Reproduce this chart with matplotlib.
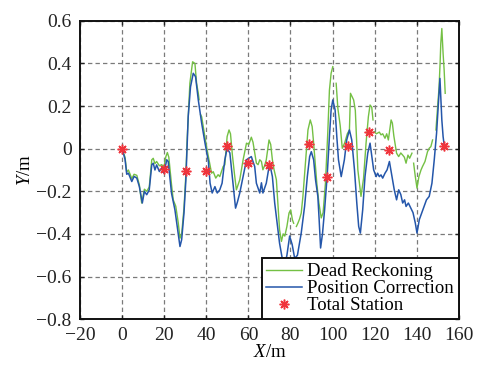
import numpy as np
import matplotlib
matplotlib.use("Agg")
import matplotlib.pyplot as plt

plt.rcParams['font.family'] = ['Liberation Serif', 'DejaVu Serif']
plt.rcParams['mathtext.fontset'] = 'custom'
plt.rcParams['mathtext.rm'] = 'Liberation Serif'
plt.rcParams['mathtext.it'] = 'Liberation Serif:italic'
plt.rcParams['axes.unicode_minus'] = True

# ---- data ----
pc_x = [0, 1.4, 2.2, 3.0, 4.6, 5.7, 7.0, 8.2, 9.6, 10.6, 11.7, 12.9, 14.1, 14.8, 15.6, 16.4,
        17.7, 18.8, 19.9, 21.2, 21.9, 23.5, 25.1, 26.4, 27.5, 28.3, 29.4, 30.3, 31.4, 32.5,
        33.8, 34.9, 36.2, 37.8, 39.4, 41.0, 41.8, 42.8, 44.1, 45.2, 46.4, 47.5, 48.8, 49.9,
        51.2, 52.7, 53.9, 54.8, 55.9, 57.5, 59.1, 61.4, 63.0, 63.8, 65.4, 66.2, 66.9, 68.5,
        70.1, 71.4, 72.5, 74.0, 74.8, 75.9, 77.0, 78.3, 79.6, 80.8, 82.0, 83.3, 85.1, 86.7,
        88.0, 89.1, 89.9, 91.0, 91.9, 93.0, 93.6, 94.3, 95.2, 96.2, 97.4, 98.5, 99.3, 100.1,
        101.2, 102.0, 102.8, 104.1, 105.6, 106.7, 108.0, 109.1, 110.4, 111.5, 112.4, 113.2,
        114.3, 115.4, 116.7, 117.8, 119.5, 120.7, 121.4, 122.2, 123.0, 123.8, 124.9, 125.9,
        127.0, 128.5, 129.3, 130.4, 131.4, 132.4, 133.3, 134.2, 134.9, 136.0, 137.2, 138.2,
        139.3, 140.1, 141.2, 142.4, 143.5, 144.6, 145.9, 147.2, 148.3, 149.4, 150.3, 151.0,
        151.4, 151.9, 152.5, 153.0]
pc_y = [0, -0.05, -0.12, -0.115, -0.154, -0.13, -0.138, -0.178, -0.255, -0.20, -0.216, -0.193,
        -0.076, -0.068, -0.10, -0.076, -0.107, -0.091, -0.115, -0.052, -0.06, -0.21, -0.287,
        -0.38, -0.459, -0.427, -0.302, -0.146, 0.15, 0.29, 0.354, 0.338, 0.229, 0.12, 0.026,
        -0.06, -0.162, -0.208, -0.178, -0.208, -0.193, -0.162, -0.052, 0.002, -0.02, -0.162,
        -0.279, -0.25, -0.208, -0.131, -0.052, -0.037, -0.084, -0.162, -0.208, -0.16, -0.208,
        -0.162, -0.068, -0.131, -0.255, -0.38, -0.443, -0.505, -0.56, -0.50, -0.41, -0.45,
        -0.515, -0.50, -0.396, -0.271, -0.131, -0.037, -0.014, -0.052, -0.146, -0.224, -0.33,
        -0.466, -0.40, -0.287, -0.131, 0.057, 0.182, 0.229, 0.182, 0.057, -0.052, -0.131,
        -0.052, 0.041, 0.088, 0.041, -0.099, -0.255, -0.365, -0.396, -0.287, -0.131, -0.021,
        0.026, -0.099, -0.131, -0.115, -0.131, -0.123, -0.138, -0.115, -0.099, -0.06, -0.146,
        -0.193, -0.24, -0.193, -0.215, -0.255, -0.24, -0.271, -0.255, -0.279, -0.30, -0.349,
        -0.396, -0.333, -0.30, -0.271, -0.24, -0.224, -0.162, -0.052, 0.073, 0.213, 0.33,
        0.244, 0.135, 0.057, 0.018]

dr_x = [0, 1.4, 2.2, 3.0, 4.6, 5.7, 7.0, 8.2, 9.3, 10.6, 11.7, 12.9, 14.1, 14.8, 15.6, 16.4,
        17.7, 18.8, 19.9, 20.8, 21.5, 22.2, 23.5, 24.3, 25.5, 26.7, 27.5, 28.3, 29.4, 30.3,
        30.9, 32.2, 33.5, 34.6, 35.4, 36.2, 36.6, np.nan,
        37.3, 37.8, 38.8, 40.1, 41.0, 42.5, 43.3, 44.5, 45.6, 46.4, 48.0, 48.8, 49.9, 50.8,
        51.5, 52.4, 53.4, 54.3, 55.9, 57.5, 59.1, 60.2, 61.4, 62.2, 63.0, 63.8, 64.6, 65.4,
        66.2, 66.9, 67.7, 68.5, 69.8, 70.6, 71.4, 72.2, 73.3, 74.1, 74.8, 75.7, 76.5, 77.3,
        78.3, 79.3, 80.1, 80.9, 81.5, np.nan,
        82.8, 83.5, 84.3, 85.1, 85.9, 87.2, 88.3, 89.4, 90.3, 91.0, 92.5, 93.5, 94.6, 95.5,
        96.6, 97.7, 98.5, 99.3, 100.1, np.nan,
        101.7, 102.5, 103.6, 104.6, 105.7, 107.0, 108.0, 108.5, 109.2, 110.0, 110.8, 112.0,
        113.5, 114.7, 115.9, 117.0, 117.8, 118.6, 119.2, np.nan,
        119.8, 120.8, 122.2, 123.0, 123.8, 124.9, 125.7, 126.5, 127.8, 128.4, 129.1, 130.4,
        131.4, 132.4, 133.3, 134.1, 134.9, 135.8, 136.6, 137.7, np.nan,
        138.5, 139.3, 140.1, 141.0, 142.0, 142.7, 143.9, 145.1, 145.9, 146.7, 147.5, np.nan,
        149.1, 149.8, 150.6, 151.1, 151.4, 151.9, 152.5, 153.0, 153.5]
dr_y = [0, -0.04, -0.11, -0.10, -0.14, -0.12, -0.125, -0.17, -0.255, -0.19, -0.20, -0.18,
        -0.052, -0.045, -0.07, -0.06, -0.08, -0.075, -0.085, -0.037, -0.018, -0.04, -0.17,
        -0.24, -0.27, -0.349, -0.42, -0.40, -0.28, -0.12, 0.04, 0.307, 0.408, 0.40, 0.307,
        0.26, 0.23, np.nan,
        0.16, 0.15, 0.088, 0.01, -0.037, -0.115, -0.108, -0.138, -0.122, -0.131, -0.084,
        -0.076, 0.057, 0.088, 0.07, -0.03, -0.12, -0.193, -0.146, -0.052, 0.026, 0.02, 0.054,
        0.03, -0.02, -0.068, -0.075, -0.052, -0.06, -0.099, -0.08, -0.052, 0.041, 0.02,
        -0.052, -0.099, -0.146, -0.271, -0.38, -0.435, -0.40, -0.41, -0.365, -0.302, -0.287,
        -0.333, -0.35, np.nan,
        -0.365, -0.35, -0.33, -0.302, -0.224, -0.052, 0.088, 0.135, 0.104, 0.026, -0.162,
        -0.255, -0.325, -0.30, -0.162, 0.073, 0.275, 0.354, 0.385, np.nan,
        0.307, 0.19, 0.11, 0.002, 0.026, 0.07, 0.088, 0.26, 0.245, 0.229, 0.18, -0.099,
        -0.224, -0.14, 0.026, 0.15, 0.205, 0.195, 0.135, np.nan,
        0.08, 0.07, 0.078, 0.065, 0.07, 0.049, 0.07, 0.041, 0.135, 0.12, 0.06, -0.021,
        -0.037, -0.02, -0.03, -0.04, -0.068, -0.03, -0.045, -0.021, np.nan,
        -0.068, -0.131, -0.185, -0.131, -0.10, -0.084, -0.06, -0.014, 0.002, 0.01, 0.041,
        np.nan,
        0.088, 0.182, 0.291, 0.408, 0.494, 0.564, 0.447, 0.369, 0.26]

ts_x = [0, 19.9, 30.2, 40.1, 49.9, 60.0, 69.9, 88.6, 97.4, 107.2, 117.2, 127.0, 152.7]
ts_y = [0, -0.095, -0.107, -0.103, 0.015, -0.068, -0.075, 0.021, -0.135, 0.013, 0.08,
        -0.006, 0.013]

x_ticks = [-20, 0, 20, 40, 60, 80, 100, 120, 140, 160]
x_tick_labels = ['\u221220', '0', '20', '40', '60', '80', '100', '120', '140', '160']
y_ticks = [-0.8, -0.6, -0.4, -0.2, 0, 0.2, 0.4, 0.6]
y_tick_labels = ['\u22120.8', '\u22120.6', '\u22120.4', '\u22120.2', '0', '0.2', '0.4', '0.6']

series_labels = ['Dead Reckoning', 'Position Correction', 'Total Station']

# ---- figure ----
fig = plt.figure(figsize=(4.79, 3.66), dpi=100)
ax = fig.add_axes([0.167, 0.128, 0.791, 0.815])

ax.plot(dr_x, dr_y, color='#74c044', lw=1.0, label=series_labels[0], zorder=3)
ax.plot(pc_x, pc_y, color='#2456aa', lw=1.1, label=series_labels[1], zorder=4)
ax.plot(ts_x, ts_y, linestyle='none', marker=(8, 2, 0), markersize=7, markeredgewidth=1.1,
        color='#f0343c', label=series_labels[2], zorder=5)

ax.set_xlim(-20, 160)
ax.set_ylim(-0.8, 0.6)
ax.set_xticks(x_ticks)
ax.set_xticklabels(x_tick_labels)
ax.set_yticks(y_ticks)
ax.set_yticklabels(y_tick_labels)
ax.tick_params(direction='in', length=3, width=1, top=True, right=True,
               labelsize=14, pad=6, colors='#222222')
ax.grid(True, color='#7a7a7a', linestyle=(0, (3.5, 2.5)), linewidth=0.9)
ax.set_axisbelow(True)
for sp in ax.spines.values():
    sp.set_linewidth(1.4)
    sp.set_color('#111111')

ax.set_xlabel(r'$X$/m', fontsize=13.5, labelpad=0)
ax.set_ylabel(r'$Y$/m', fontsize=13.5, labelpad=2)

leg = ax.legend(loc='lower right', borderaxespad=0, fontsize=13.5, frameon=True,
                fancybox=False, edgecolor='#111111', framealpha=1,
                handlelength=1.9, handletextpad=0.3, labelspacing=0.0,
                borderpad=0.25)
leg.get_frame().set_linewidth(1.4)
leg.set_zorder(10)

fig.savefig('out.png', dpi=100)
